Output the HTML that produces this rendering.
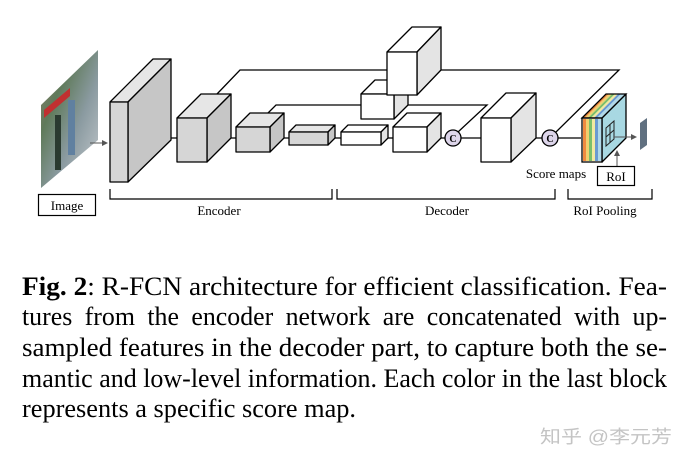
<!DOCTYPE html>
<html><head><style>html,body{margin:0;padding:0;background:#fff}svg{display:block}</style></head>
<body>
<svg width="689" height="463" viewBox="0 0 689 463" xmlns="http://www.w3.org/2000/svg" font-family="Liberation Serif, serif">
<defs><linearGradient id="im" x1="0" y1="0" x2="1" y2="1">
<stop offset="0" stop-color="#9a8070"/><stop offset="0.3" stop-color="#5f7a5a"/><stop offset="0.6" stop-color="#8a9aa0"/><stop offset="1" stop-color="#c8ccd0"/></linearGradient></defs>
<g stroke="#000" stroke-width="1.3" fill="none">
<polyline points="217,94 240,70 619,70 556,132"/>
<polyline points="268,113 276,105 487,105 458,132"/>
<line x1="128" y1="138" x2="177" y2="138"/>
<line x1="207" y1="138" x2="236" y2="138"/>
<line x1="270" y1="138" x2="289" y2="138"/>
<line x1="328" y1="138" x2="341" y2="138"/>
<line x1="381" y1="138" x2="393" y2="138"/>
<line x1="427" y1="138" x2="481" y2="138"/>
<line x1="511" y1="138" x2="581" y2="138"/>
</g>
<polygon points="41,105 98,50 98,140 41,188" fill="url(#im)"/>
<polygon points="44,110 70,88 70,96 44,118" fill="#c03030"/>
<rect x="55" y="115" width="6" height="55" fill="#2a3a30"/>
<rect x="68" y="100" width="7" height="55" fill="#6080a0"/>
<line x1="90" y1="143" x2="106" y2="143" stroke="#555" stroke-width="1"/>
<polygon points="108,143 102,140 102,146" fill="#555"/>
<g stroke="#000" stroke-width="1.3" stroke-linejoin="round">
<polygon points="110,102 153,59 171,59 128,102" fill="#e6e6e6"/>
<polygon points="128,102 171,59 171,140 128,182" fill="#c6c6c6"/>
<rect x="110" y="102" width="18" height="80" fill="#d6d6d6"/>
<polygon points="177,118 201,94 231,94 207,118" fill="#e6e6e6"/>
<polygon points="207,118 231,94 231,138 207,162" fill="#c6c6c6"/>
<rect x="177" y="118" width="30" height="44" fill="#d6d6d6"/>
<polygon points="236,127 250,113 284,113 270,127" fill="#e6e6e6"/>
<polygon points="270,127 284,113 284,138 270,152" fill="#c6c6c6"/>
<rect x="236" y="127" width="34" height="25" fill="#d6d6d6"/>
<polygon points="289,132 296,125 335,125 328,132" fill="#e6e6e6"/>
<polygon points="328,132 335,125 335,138 328,145" fill="#c6c6c6"/>
<rect x="289" y="132" width="39" height="13" fill="#d6d6d6"/>
<polygon points="341,132 348,125 388,125 381,132" fill="#fff"/>
<polygon points="381,132 388,125 388,138 381,145" fill="#e4e4e4"/>
<rect x="341" y="132" width="40" height="13" fill="#fff"/>
<polygon points="393,127 407,113 441,113 427,127" fill="#fff"/>
<polygon points="427,127 441,113 441,138 427,152" fill="#e4e4e4"/>
<rect x="393" y="127" width="34" height="25" fill="#fff"/>
<polygon points="481,118 506,93 536,93 511,118" fill="#fff"/>
<polygon points="511,118 536,93 536,138 511,162" fill="#e4e4e4"/>
<rect x="481" y="118" width="30" height="44" fill="#fff"/>
<polygon points="361,94 375,80 408,80 394,94" fill="#fff"/>
<polygon points="394,94 408,80 408,105 394,119" fill="#e4e4e4"/>
<rect x="361" y="94" width="33" height="25" fill="#fff"/>
<polygon points="387,52 412,27 441,27 417,52" fill="#fff"/>
<polygon points="417,52 441,27 441,70 417,95" fill="#e4e4e4"/>
<rect x="387" y="52" width="30" height="43" fill="#fff"/>
<circle cx="453" cy="138" r="8" fill="#ddd5ea"/>
<circle cx="550" cy="138" r="8" fill="#ddd5ea"/>
<polygon points="602,118 626,94 626,138 602,162" fill="#a8d8e2"/>
</g>
<g stroke="none">
<polygon points="582,118 606,94 609,94 585,118" fill="#f08a40"/>
<polygon points="585,118 609,94 612,94 588,118" fill="#f0d070"/>
<polygon points="588,118 612,94 615,94 591,118" fill="#7cbf6a"/>
<polygon points="591,118 615,94 618,94 594,118" fill="#f2e8a0"/>
<polygon points="594,118 618,94 621,94 597,118" fill="#6a9ad0"/>
<polygon points="597,118 621,94 626,94 602,118" fill="#b0d8e8"/>
<rect x="583" y="119" width="3" height="42" fill="#f08a40"/>
<rect x="586" y="119" width="3" height="42" fill="#f0d070"/>
<rect x="589" y="119" width="3" height="42" fill="#7cbf6a"/>
<rect x="592" y="119" width="3" height="42" fill="#f2e8a0"/>
<rect x="595" y="119" width="3" height="42" fill="#6a9ad0"/>
<rect x="598" y="119" width="4" height="42" fill="#b0d8e8"/>
</g>
<polygon points="582,118 606,94 626,94 602,118" fill="none" stroke="#000" stroke-width="1.3"/>
<rect x="582" y="118" width="20" height="44" fill="none" stroke="#000" stroke-width="1.3"/>
<g stroke="#222" stroke-width="1" fill="none">
<polygon points="606,128 614,121 614,139 606,146"/>
<line x1="610" y1="124" x2="610" y2="143"/><line x1="606" y1="137" x2="614" y2="130"/>
</g>
<line x1="614" y1="137" x2="634" y2="137" stroke="#555" stroke-width="1"/>
<polygon points="637,137 631,134 631,140" fill="#555"/>
<polygon points="640,123 647,118 647,145 640,150" fill="#607080"/>
<line x1="617" y1="166" x2="617" y2="154" stroke="#555" stroke-width="1"/>
<polygon points="617,150 614,156 620,156" fill="#555"/>
<g font-size="10" font-weight="bold" text-anchor="middle" fill="#000">
<text x="453" y="142">C</text>
<text x="550" y="142">C</text>
</g>
<g stroke="#000" stroke-width="1.2" fill="none">
<polyline points="110,189 110,199 332,199 332,189"/>
<polyline points="337,189 337,199 555,199 555,189"/>
<polyline points="568,189 568,199 652,199 652,189"/>
</g>
<rect x="38.5" y="194.5" width="57" height="21" fill="#fff" stroke="#000" stroke-width="1.2"/>
<rect x="597.5" y="166.5" width="37" height="19" fill="#fff" stroke="#000" stroke-width="1.2"/>
<g font-size="13" fill="#000" text-anchor="middle">
<text x="67" y="210">Image</text>
<text x="219" y="215">Encoder</text>
<text x="447" y="215">Decoder</text>
<text x="605" y="215">RoI Pooling</text>
<text x="616" y="181">RoI</text>
<text x="556" y="178">Score maps</text>
</g>
<g font-size="26" fill="#000">
<text x="22" y="295" textLength="645" lengthAdjust="spacingAndGlyphs"><tspan font-weight="bold">Fig. 2</tspan>: R-FCN architecture for efficient classification.  Fea-</text>
<text x="22" y="325" textLength="645" lengthAdjust="spacingAndGlyphs" word-spacing="6">tures from the encoder network are concatenated with up-</text>
<text x="22" y="356" textLength="645" lengthAdjust="spacingAndGlyphs">sampled features in the decoder part, to capture both the se-</text>
<text x="22" y="387" textLength="645" lengthAdjust="spacingAndGlyphs">mantic and low-level information. Each color in the last block</text>
<text x="22" y="417" textLength="334" lengthAdjust="spacingAndGlyphs">represents a specific score map.</text>
</g>
<text x="540" y="443" font-family="Liberation Sans, Noto Sans CJK SC, sans-serif" font-size="18" fill="#c4c4c4" textLength="132" lengthAdjust="spacingAndGlyphs">知乎 @李元芳</text>
</svg>
</body></html>
